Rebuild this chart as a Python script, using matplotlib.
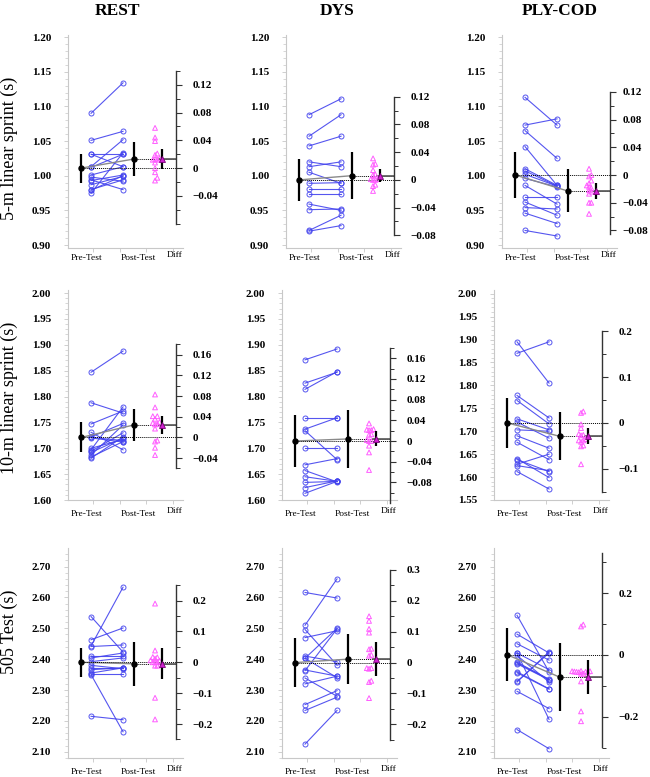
import numpy as np
import matplotlib
matplotlib.use('Agg')
import matplotlib.pyplot as plt
from matplotlib.ticker import FixedLocator

plt.rcParams['font.family'] = ['Liberation Serif', 'DejaVu Serif']

# ---- data (seconds) ----
groups = ['REST', 'DYS', 'PLY-COD']
tests = ['5-m linear sprint (s)', '10-m linear sprint (s)', '505 Test (s)']

rest_5m_pre = [1.090, 1.051, 1.032, 1.031, 1.013, 1.001, 0.994, 0.993, 0.987, 0.980, 0.979, 0.975, 0.998, 1.012]
rest_5m_post = [1.134, 1.064, 1.032, 1.013, 1.052, 1.013, 0.980, 1.001, 0.999, 0.994, 1.000, 1.033, 0.992, 1.031]
dys_5m_pre = [1.088, 1.057, 1.043, 1.020, 1.013, 1.005, 0.989, 0.981, 0.974, 0.959, 0.951, 0.921, 0.920]
dys_5m_post = [1.111, 1.088, 1.057, 1.013, 1.020, 0.989, 0.990, 0.981, 0.974, 0.950, 0.952, 0.943, 0.928]
ply_5m_pre = [1.113, 1.073, 1.065, 1.042, 1.010, 1.007, 1.002, 0.996, 0.986, 0.969, 0.962, 0.954, 0.946, 0.921]
ply_5m_post = [1.073, 1.082, 1.025, 0.986, 0.986, 0.985, 0.985, 0.984, 0.959, 0.969, 0.943, 0.952, 0.931, 0.913]

rest_10m_pre = [1.847, 1.788, 1.747, 1.721, 1.722, 1.720, 1.697, 1.694, 1.692, 1.687, 1.683, 1.681, 1.731, 1.700]
rest_10m_post = [1.888, 1.768, 1.772, 1.715, 1.748, 1.712, 1.780, 1.730, 1.720, 1.745, 1.713, 1.722, 1.697, 1.717]
dys_10m_pre = [1.871, 1.826, 1.814, 1.758, 1.737, 1.734, 1.701, 1.668, 1.657, 1.645, 1.634, 1.624, 1.613]
dys_10m_post = [1.892, 1.847, 1.848, 1.758, 1.759, 1.678, 1.701, 1.680, 1.635, 1.636, 1.636, 1.637, 1.636]
ply_10m_pre = [1.895, 1.870, 1.778, 1.767, 1.727, 1.720, 1.703, 1.690, 1.676, 1.638, 1.628, 1.625, 1.612, 1.640]
ply_10m_post = [1.805, 1.895, 1.729, 1.716, 1.703, 1.685, 1.700, 1.663, 1.638, 1.612, 1.650, 1.614, 1.574, 1.599]

rest_505_pre = [2.538, 2.463, 2.443, 2.441, 2.404, 2.392, 2.380, 2.372, 2.366, 2.350, 2.352, 2.215, 2.410, 2.355]
rest_505_post = [2.423, 2.501, 2.633, 2.446, 2.420, 2.404, 2.369, 2.372, 2.372, 2.165, 2.352, 2.204, 2.410, 2.372]
dys_505_pre = [2.510, 2.363, 2.403, 2.616, 2.496, 2.470, 2.403, 2.365, 2.339, 2.320, 2.253, 2.234, 2.125, 2.410]
dys_505_post = [2.660, 2.498, 2.500, 2.598, 2.381, 2.492, 2.340, 2.345, 2.280, 2.345, 2.298, 2.277, 2.234, 2.392]
ply_505_pre = [2.542, 2.481, 2.450, 2.420, 2.412, 2.390, 2.388, 2.385, 2.359, 2.356, 2.328, 2.326, 2.296, 2.172, 2.420]
ply_505_post = [2.359, 2.420, 2.397, 2.366, 2.326, 2.335, 2.334, 2.333, 2.304, 2.303, 2.420, 2.424, 2.240, 2.110, 2.205]

pre_data = [[rest_5m_pre, dys_5m_pre, ply_5m_pre],
            [rest_10m_pre, dys_10m_pre, ply_10m_pre],
            [rest_505_pre, dys_505_pre, ply_505_pre]]
post_data = [[rest_5m_post, dys_5m_post, ply_5m_post],
             [rest_10m_post, dys_10m_post, ply_10m_post],
             [rest_505_post, dys_505_post, ply_505_post]]

# summary statistics shown by the black markers / bars
pre_mean = [[1.011, 0.994, 1.001], [1.721, 1.714, 1.718], [2.390, 2.389, 2.414]]
pre_sd = [[0.021, 0.030, 0.033], [0.029, 0.051, 0.055], [0.047, 0.079, 0.086]]
post_mean = [[1.024, 1.000, 0.978], [1.745, 1.718, 1.689], [2.385, 2.400, 2.342]]
post_sd = [[0.024, 0.034, 0.031], [0.031, 0.056, 0.052], [0.072, 0.080, 0.110]]
diff_ci = [[0.014, 0.009, 0.011], [0.018, 0.0145, 0.0175], [0.050, 0.055, 0.056]]

# left axis
ylims = [[(0.8957, 1.203)] * 3,
         [(1.60, 2.006), (1.60, 2.006), (1.55, 2.008)],
         [(2.08, 2.76)] * 3]
left_ticks = [[np.arange(0.90, 1.201, 0.05)] * 3,
              [np.arange(1.60, 2.001, 0.05), np.arange(1.60, 2.001, 0.05), np.arange(1.55, 2.001, 0.05)],
              [np.arange(2.10, 2.701, 0.10)] * 3]
left_minor = [0.01, 0.01, 0.02]

# right (difference) axis
r_bounds = [[(-0.08, 0.14), (-0.08, 0.12), (-0.085, 0.12)],
            [(-0.06, 0.18), (-0.12, 0.18), (-0.15, 0.2)],
            [(-0.25, 0.25), (-0.25, 0.3), (-0.3, 0.33)]]
r_ticks = [[[-0.04, 0, 0.04, 0.08, 0.12], [-0.08, -0.04, 0, 0.04, 0.08, 0.12], [-0.08, -0.04, 0, 0.04, 0.08, 0.12]],
           [[-0.04, 0, 0.04, 0.08, 0.12, 0.16], [-0.08, -0.04, 0, 0.04, 0.08, 0.12, 0.16], [-0.1, 0, 0.1, 0.2]],
           [[-0.2, -0.1, 0, 0.1, 0.2], [-0.2, -0.1, 0, 0.1, 0.2, 0.3], [-0.2, 0, 0.2]]]
r_minor = [[0.02, 0.02, 0.02], [0.02, 0.02, 0.05], [0.05, 0.05, 0.1]]
r_decimals = [[2, 2, 2], [2, 2, 1], [1, 1, 1]]

# layout in pixels
W, H = 650, 777
row_px = [(35, 248), (290, 500), (548, 758)]
col_px = [[68, 286, 502], [68, 282, 494], [68, 282, 494]]
label_off = [(10, 7), (14.5, 11), (14.5, 11)]

X0, X1, XSPINE = 0.28, 3.87, 3.655
PX_X = 32.0
X_PRE_M, X_POST_M, X_DIFF, X_DIFF_M = 0.70, 2.33, 3.0, 3.23

BLUE = '#4343ee'
PINK = '#ff5cff'
GRID = '#c8c8c8'


def fmt(v, d):
    if abs(v) < 1e-9:
        return '0'
    s = f'{abs(v):.{d}f}'
    return ('\u2212' + s) if v < 0 else s


def swarm(vals, x0, dy, dx):
    xs = np.full(len(vals), x0, dtype=float)
    placed = []
    for i in np.argsort(vals):
        for k in range(0, 20):
            offs = [0.0] if k == 0 else [k * dx, -k * dx]
            ok = None
            for o in offs:
                cx = x0 + o
                if all(abs(vals[i] - v) >= dy or abs(cx - x) >= dx * 0.99 for x, v in placed):
                    ok = cx
                    break
            if ok is not None:
                xs[i] = ok
                placed.append((ok, vals[i]))
                break
    return xs


fig = plt.figure(figsize=(W / 100, H / 100), dpi=100)

for r in range(3):
    top, bot = row_px[r]
    for c in range(3):
        lp = col_px[r][c]
        ax = fig.add_axes([lp / W, 1 - bot / H, (X1 - X0) * PX_X / W, (bot - top) / H])
        ylo, yhi = ylims[r][c]
        ax.set_xlim(X0, X1)
        ax.set_ylim(ylo, yhi)
        per_px = (yhi - ylo) / (bot - top)

        pre = np.array(pre_data[r][c])
        post = np.array(post_data[r][c])
        pm, qm = pre_mean[r][c], post_mean[r][c]

        # paired lines
        ax.plot(np.vstack([np.ones_like(pre), 2 * np.ones_like(post)]),
                np.vstack([pre, post]), color=BLUE, lw=0.8, alpha=0.9,
                marker='o', ms=3.6, mfc='none', mec=BLUE, mew=0.7, zorder=2)

        # mean lines
        ax.plot([X_PRE_M, X_POST_M], [pm, qm], color='#8a8a8a', lw=1.0, zorder=3)
        ax.plot([X_PRE_M, XSPINE], [pm, pm], color='black', ls=(0, (1, 1)), lw=0.7, zorder=3)
        ax.plot([X_POST_M, XSPINE], [qm, qm], color='black', ls=(0, (1, 1)), lw=0.7, zorder=3)
        ax.plot([X_DIFF_M - 0.1, XSPINE], [qm, qm], color='#555555', lw=1.2, zorder=3)

        ax.errorbar(X_PRE_M, pm, yerr=pre_sd[r][c], fmt='o', color='black', ms=3.6,
                    elinewidth=1.6, capsize=0, zorder=4)
        ax.errorbar(X_POST_M, qm, yerr=post_sd[r][c], fmt='o', color='black', ms=3.6,
                    elinewidth=1.6, capsize=0, zorder=4)

        # left axis styling
        for s in ['top', 'right']:
            ax.spines[s].set_visible(False)
        ax.spines['left'].set_color(GRID)
        ax.spines['bottom'].set_color(GRID)
        ax.spines['left'].set_linewidth(0.8)
        ax.spines['bottom'].set_linewidth(0.8)
        lt = left_ticks[r][c]
        ax.set_yticks(lt)
        ax.set_yticklabels([f'{t:.2f}' for t in lt], fontweight='bold', fontsize=8)
        mstep = left_minor[r]
        ax.yaxis.set_minor_locator(FixedLocator(np.arange(lt[0] - 5 * mstep, yhi, mstep)))
        ax.tick_params(axis='y', which='major', length=3, width=0.6, color=GRID, pad=9)
        ax.tick_params(axis='y', which='minor', length=2, width=0.5, color=GRID)
        ax.set_xticks([1.06, 1.9, 2.73, 3.55])
        ax.set_xticklabels([])
        ax.tick_params(axis='x', length=3, width=0.6, color=GRID)

        o1, o2 = label_off[r]
        h = bot - top
        xt = ax.get_xaxis_transform()
        ax.text(0.86, -o1 / h, 'Pre-Test', transform=xt, ha='center', va='center', fontsize=6.8)
        ax.text(2.49, -o1 / h, 'Post-Test', transform=xt, ha='center', va='center', fontsize=6.8)
        ax.text(3.61, -o2 / h, 'Diff', transform=xt, ha='center', va='center', fontsize=6.8)

        # difference axis
        ax2 = ax.twinx()
        ax2.set_ylim(ylo - pm, yhi - pm)
        ax2.set_xlim(X0, X1)
        for s in ['top', 'left', 'bottom']:
            ax2.spines[s].set_visible(False)
        lo, hi = r_bounds[r][c]
        ax2.spines['right'].set_position(('data', XSPINE))
        ax2.spines['right'].set_bounds(lo, hi)
        ax2.spines['right'].set_color('#333333')
        ax2.spines['right'].set_linewidth(1.0)
        rt = r_ticks[r][c]
        ax2.yaxis.set_major_locator(FixedLocator(rt))
        ax2.set_yticklabels([fmt(t, r_decimals[r][c]) for t in rt], fontweight='bold', fontsize=8)
        st = r_minor[r][c]
        mt = np.arange(np.ceil(lo / st - 1e-6) * st, hi + 1e-6, st)
        ax2.yaxis.set_minor_locator(FixedLocator(mt))
        # the top-right panel sits against the figure edge: keep its labels inside
        rpad = 5 if (r == 0 and c == 2) else 8
        ax2.tick_params(axis='y', which='major', length=4, width=0.8, color='#333333', pad=rpad)
        ax2.tick_params(axis='y', which='minor', length=3, width=0.7, color='#333333')

        diffs = post - pre
        xs = swarm(diffs, X_DIFF, 3.0 * per_px, 0.07)
        ax2.scatter(xs, diffs, marker='^', s=12, facecolors='none', edgecolors=PINK,
                    linewidths=0.7, zorder=3)
        md = qm - pm
        ax2.errorbar(X_DIFF_M, md, yerr=diff_ci[r][c], fmt='none', ecolor='black',
                     elinewidth=1.6, capsize=0, zorder=4)
        ax2.plot(X_DIFF_M, md, marker='^', ms=4.6, color='#d020d0', mec='#7a007a',
                 mew=0.6, zorder=5)

# column titles and row labels
for c, x in enumerate([117, 337, 560]):
    fig.text(x / W, 1 - 11 / H, groups[c], ha='center', va='center',
             fontsize=12.5, fontweight='bold')
for r, y in enumerate([148, 398, 632]):
    fig.text(9 / W, 1 - y / H, tests[r], ha='center', va='center', rotation=90, fontsize=13)

fig.savefig('out.png', dpi=100)
